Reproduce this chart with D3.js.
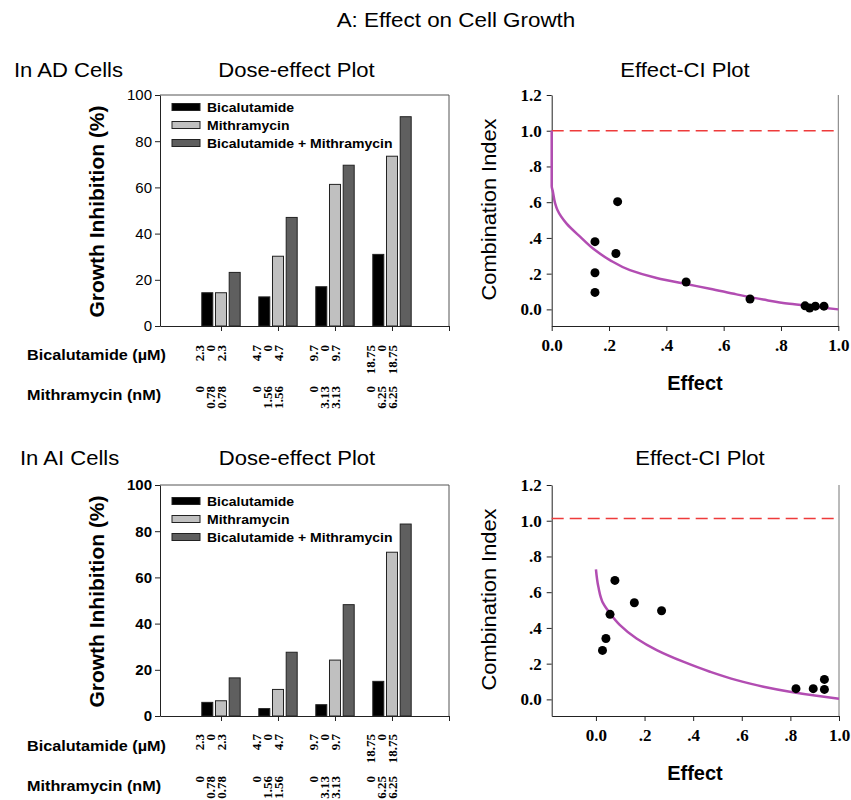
<!DOCTYPE html>
<html><head><meta charset="utf-8">
<script src="https://cdn.jsdelivr.net/npm/d3@7"></script>
<style>body{margin:0;background:#fff} svg{display:block}</style>
</head><body><svg id="c" width="851" height="800"></svg>
<script>
// ---------- data ----------
const categories = [1, 2, 3, 4];
const seriesNames = ["Bicalutamide", "Mithramycin", "Bicalutamide + Mithramycin"];
const seriesColors = ["#000000", "#c0c0c0", "#5f5f5f"];
const adBicalutamide = [14.4, 12.6, 17.0, 31.0];
const adMithramycin  = [14.4, 30.2, 61.3, 73.5];
const adCombination  = [23.2, 47.0, 69.6, 90.6];
const aiBicalutamide = [5.9, 3.2, 4.9, 15.0];
const aiMithramycin  = [6.6, 11.5, 24.2, 70.9];
const aiCombination  = [16.5, 27.6, 48.2, 83.1];
const bicalutamideDoses = [["2.3","0","2.3"],["4.7","0","4.7"],["9.7","0","9.7"],["18.75","0","18.75"]];
const mithramycinDoses  = [["0","0.78","0.78"],["0","1.56","1.56"],["0","3.13","3.13"],["0","6.25","6.25"]];
const barYTicks = [0, 20, 40, 60, 80, 100];
const ciYTicks = [0, 0.2, 0.4, 0.6, 0.8, 1.0, 1.2];
const ciYTickLabels = ["0.0", ".2", ".4", ".6", ".8", "1.0", "1.2"];
const ciXTicks = [0, 0.2, 0.4, 0.6, 0.8, 1.0];
const ciXTickLabels = ["0.0", ".2", ".4", ".6", ".8", "1.0"];

const adEffect = [0.151, 0.151, 0.151, 0.230, 0.224, 0.469, 0.692, 0.884, 0.900, 0.920, 0.950];
const adCI     = [0.379, 0.205, 0.095, 0.603, 0.313, 0.153, 0.058, 0.020, 0.008, 0.018, 0.018];
const adCurveEffect = [0.0, 0.0, 0.004, 0.012, 0.02, 0.052, 0.099, 0.151, 0.203, 0.273, 0.366, 0.465, 0.552, 0.645, 0.738, 0.83, 0.924, 1.0];
const adCurveCI     = [1.0, 0.69, 0.66, 0.593, 0.556, 0.48, 0.407, 0.332, 0.276, 0.22, 0.176, 0.143, 0.116, 0.084, 0.055, 0.031, 0.014, 0.0];

const aiEffect = [0.027, 0.041, 0.058, 0.078, 0.158, 0.270, 0.823, 0.894, 0.940, 0.940];
const aiCI     = [0.274, 0.341, 0.476, 0.666, 0.541, 0.496, 0.060, 0.060, 0.112, 0.056];
const aiCurveEffect = [0.0, 0.01, 0.03, 0.058, 0.099, 0.167, 0.25, 0.359, 0.469, 0.579, 0.689, 0.798, 0.908, 1.0];
const aiCurveCI     = [0.728, 0.63, 0.537, 0.481, 0.416, 0.341, 0.276, 0.211, 0.155, 0.108, 0.071, 0.043, 0.02, 0.004];

// ---------- drawing ----------
const svg = d3.select("#c");
const SANS = "'Liberation Sans', Arial, sans-serif";
const SERIF = "'Liberation Serif', 'Times New Roman', serif";

function txt(x, y, s, size, opts = {}) {
  const t = svg.append("text").attr("x", x).attr("y", y).text(s)
    .attr("font-family", opts.family || SANS).attr("font-size", size)
    .attr("font-weight", opts.weight || "normal")
    .attr("text-anchor", opts.anchor || "start").attr("fill", "#000");
  if (opts.rotate) t.attr("transform", `rotate(-90,${x},${y})`);
  if (opts.len) t.attr("textLength", opts.len).attr("lengthAdjust", "spacingAndGlyphs");
  else if (opts.stretch) {
    const w = t.node().getComputedTextLength();
    t.attr("textLength", w * opts.stretch).attr("lengthAdjust", "spacingAndGlyphs");
  }
  return t;
}

txt(456, 27, "A: Effect on Cell Growth", 20, {anchor: "middle", stretch: 1.12});

function barPanel(top, bottom, series, boldTicks, legendRows, bicY, mitY, rowBicY, rowMitY) {
  const left = 160, right = 449;
  const x = d3.scaleLinear().domain([-0.07, 5]).range([left, right]);
  const y = d3.scaleLinear().domain([0, 100]).range([bottom, top]);
  const g = svg.append("g");
  // frame
  g.append("path").attr("d", `M${left},${top}H${right}V${bottom}`).attr("fill", "none").attr("stroke", "#555").attr("stroke-width", 1);
  const offsets = [-13.7, 0, 13.7], bw = 11;
  series.forEach((vals, si) => {
    g.selectAll(null).data(categories).enter().append("rect")
      .attr("x", (c) => x(c) + offsets[si] - bw / 2)
      .attr("y", (c, i) => y(vals[i]))
      .attr("width", bw)
      .attr("height", (c, i) => y(0) - y(vals[i]))
      .attr("fill", seriesColors[si]).attr("stroke", "#222").attr("stroke-width", 1);
  });
  // axes
  const ya = g.append("g").attr("transform", `translate(${left},0)`)
    .call(d3.axisLeft(y).tickValues(barYTicks).tickSize(5).tickSizeOuter(0));
  ya.selectAll("text").attr("font-family", SANS).attr("font-size", 15).attr("font-weight", boldTicks ? "bold" : "normal").attr("fill", "#000").attr("x", -8);
  ya.selectAll("line,path").attr("stroke", "#222");
  const xa = g.append("g").attr("transform", `translate(0,${bottom})`)
    .call(d3.axisBottom(x).tickValues([1, 2, 3, 4, 5]).tickFormat("").tickSize(5).tickSizeOuter(0));
  xa.selectAll("line,path").attr("stroke", "#222");
  // legend
  seriesNames.forEach((n, i) => {
    g.append("rect").attr("x", 172).attr("y", legendRows[i] - 3.5).attr("width", 28).attr("height", 7)
      .attr("fill", seriesColors[i]).attr("stroke", "#222").attr("stroke-width", 1);
    txt(207, legendRows[i] + 4.5, n, 12.5, {weight: "bold", stretch: 1.12});
  });
  // y title
  txt(104, (top + bottom) / 2 + 1, "Growth Inhibition (%)", 20, {anchor: "middle", rotate: true, weight: "bold", len: 212});
  // dose labels
  const lo = [-22, -10.5, 0];
  categories.forEach((c, i) => {
    bicalutamideDoses[i].forEach((s, j) => {
      txt(x(c) + lo[j], bicY, s, 13, {family: SERIF, weight: "bold", anchor: "end", rotate: true}).attr("dy", "0.35em");
    });
    mithramycinDoses[i].forEach((s, j) => {
      txt(x(c) + lo[j], mitY, s, 13, {family: SERIF, weight: "bold", anchor: "end", rotate: true}).attr("dy", "0.35em");
    });
  });
  txt(27, rowBicY, "Bicalutamide (\u00b5M)", 15, {weight: "bold", stretch: 1.08});
  txt(27, rowMitY, "Mithramycin (nM)", 15, {weight: "bold", stretch: 1.08});
}

function ciPanel(top, bottom, xmin, right, yline, ex, ci, cx, cy) {
  const left = 551.7;
  const x = d3.scaleLinear().domain([xmin, 1.0]).range([left, right]);
  const y = d3.scaleLinear().domain([-0.093, 1.2]).range([bottom, top]);
  const g = svg.append("g");
  g.append("line").attr("x1", right).attr("x2", right).attr("y1", top).attr("y2", bottom).attr("stroke", "#777").attr("stroke-width", 1);
  const ya = g.append("g").attr("transform", `translate(${left},0)`)
    .call(d3.axisLeft(y).tickValues(ciYTicks).tickFormat((d, i) => ciYTickLabels[i]).tickSize(5).tickSizeOuter(0));
  ya.selectAll("text").attr("font-family", SERIF).attr("font-size", 17).attr("font-weight", "bold").attr("fill", "#000").attr("x", -10);
  ya.selectAll("line,path").attr("stroke", "#222");
  const xa = g.append("g").attr("transform", `translate(0,${bottom})`)
    .call(d3.axisBottom(x).tickValues(ciXTicks).tickFormat((d, i) => ciXTickLabels[i]).tickSize(5).tickSizeOuter(0));
  xa.selectAll("text").attr("font-family", SERIF).attr("font-size", 17).attr("font-weight", "bold").attr("fill", "#000").attr("y", 13);
  xa.selectAll("line,path").attr("stroke", "#222");
  g.append("line").attr("x1", left).attr("x2", right).attr("y1", y(yline)).attr("y2", y(yline))
    .attr("stroke", "#ee3b3b").attr("stroke-width", 1.5).attr("stroke-dasharray", "12,6");
  const pts = cx.map((v, i) => [x(v), y(cy[i])]);
  g.append("path").attr("d", d3.line().curve(d3.curveMonotoneY)(pts)).attr("fill", "none")
    .attr("stroke", "#b24db2").attr("stroke-width", 2.5);
  g.selectAll(null).data(ex).enter().append("circle")
    .attr("cx", (d) => x(d)).attr("cy", (d, i) => y(ci[i])).attr("r", 4.5).attr("fill", "#000");
  txt(496, (top + bottom) / 2 - 1, "Combination Index", 20.5, {anchor: "middle", rotate: true, len: 182});
  txt(695, bottom + 64, "Effect", 20, {anchor: "middle", weight: "bold"});
}

// top row
txt(14, 77, "In AD Cells", 19.5, {stretch: 1.13});
txt(296.5, 77, "Dose-effect Plot", 19.5, {anchor: "middle", stretch: 1.13});
txt(685, 77, "Effect-CI Plot", 19.5, {anchor: "middle", stretch: 1.13});
barPanel(95, 326, [adBicalutamide, adMithramycin, adCombination], false, [107, 125, 143], 345, 386, 360, 400);
ciPanel(95, 326, 0, 838.3, 1.0, adEffect, adCI, adCurveEffect, adCurveCI);

// bottom row
txt(20, 465, "In AI Cells", 19.5, {stretch: 1.13});
txt(297, 465, "Dose-effect Plot", 19.5, {anchor: "middle", stretch: 1.13});
txt(700, 465, "Effect-CI Plot", 19.5, {anchor: "middle", stretch: 1.13});
barPanel(485, 716, [aiBicalutamide, aiMithramycin, aiCombination], true, [501, 519, 537], 734, 776, 751, 791);
ciPanel(485, 716, -0.182, 839, 1.013, aiEffect, aiCI, aiCurveEffect, aiCurveCI);
</script>
</body></html>
